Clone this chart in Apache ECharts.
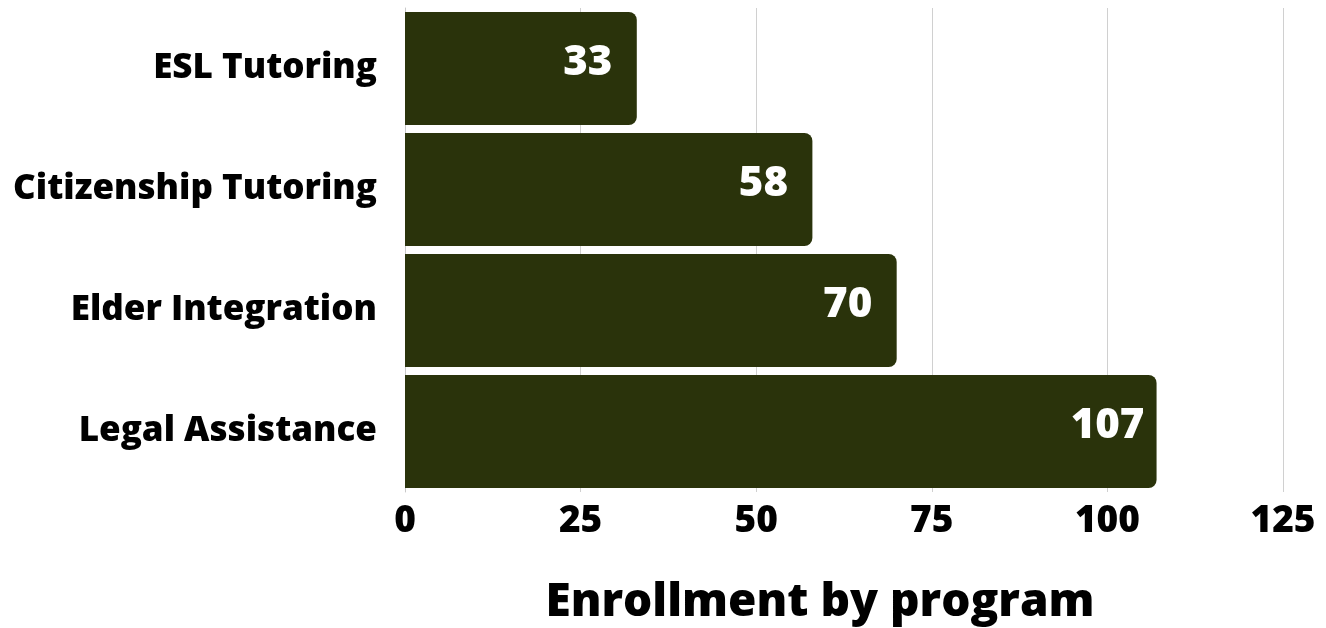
<!DOCTYPE html>
<html>
<head>
<meta charset="utf-8">
<script src="https://cdn.jsdelivr.net/npm/echarts@6/dist/echarts.min.js"></script>
<style>
html,body{margin:0;padding:0;background:#fff;}
#chart{width:1326px;height:628px;}
</style>
</head>
<body>
<div id="chart"></div>
<script>
const categories = ['ESL Tutoring', 'Citizenship Tutoring', 'Elder Integration', 'Legal Assistance'];
const enrollment = [33, 58, 70, 107];
const xTicks = [0, 25, 50, 75, 100, 125];
const axisTitle = 'Enrollment by program';

const FONT = '"Open Sans", Lato, sans-serif';
const chart = echarts.init(document.getElementById('chart'));
chart.setOption({
  animation: false,
  grid: {left: 405, right: 43, top: 8, bottom: 136, containLabel: false, outerBoundsMode: 'none'},
  xAxis: {
    type: 'value',
    min: xTicks[0],
    max: xTicks[xTicks.length - 1],
    interval: 25,
    axisLine: {show: false},
    axisTick: {show: false},
    splitLine: {show: true, lineStyle: {color: '#d0d0d0', width: 1}},
    axisLabel: {color: '#000', fontFamily: FONT, fontWeight: 800, fontSize: 37, margin: 11},
    name: axisTitle,
    nameLocation: 'middle',
    nameGap: 88,
    nameTextStyle: {color: '#000', fontFamily: FONT, fontWeight: 800, fontSize: 46, padding: [0, 48, 0, 0]}
  },
  yAxis: {
    type: 'category',
    data: categories,
    inverse: true,
    axisLine: {show: true, lineStyle: {color: '#c8c8c8', width: 1}},
    axisTick: {show: false},
    splitLine: {show: false},
    axisLabel: {color: '#000', fontFamily: FONT, fontWeight: 800, fontSize: 35, margin: 28, padding: [0, 0, 6, 0]}
  },
  series: [{
    type: 'bar',
    data: enrollment,
    barCategoryGap: '6.5%',
    itemStyle: {color: '#2a330b', borderRadius: [0, 8, 8, 0]},
    label: {
      show: true,
      position: 'insideRight',
      distance: 49,
      align: 'center',
      offset: [0, -5],
      color: '#fff',
      fontFamily: FONT,
      fontWeight: 800,
      fontSize: 42
    }
  }]
});
</script>
</body>
</html>
